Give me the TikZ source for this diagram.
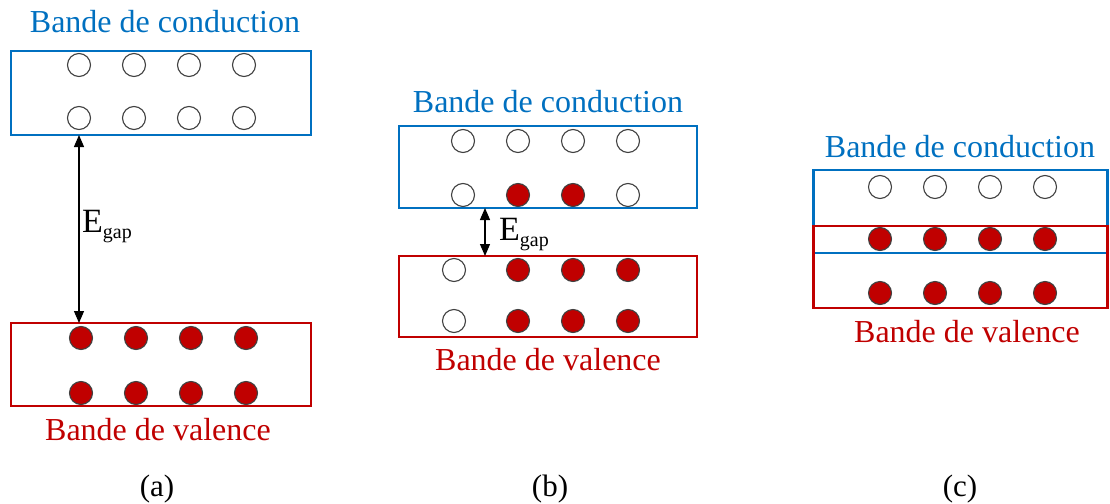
\documentclass[tikz,border=0pt]{standalone}
\usepackage{fontspec}
\setmainfont{Liberation Serif}
\usetikzlibrary{arrows.meta}
\definecolor{bandblue}{HTML}{0070C0}
\definecolor{bandred}{HTML}{C00000}
\begin{document}
\begin{tikzpicture}[x=1pt,y=-1pt,
  cband/.style={draw=bandblue, line width=2.6pt, rectangle, inner sep=0pt, outer sep=0pt},
  vband/.style={draw=bandred, line width=2.6pt, rectangle, inner sep=0pt, outer sep=0pt},
  hole/.style={circle, draw=black!75, line width=1.1pt, minimum size=23pt, inner sep=0pt, fill=white},
  elec/.style={hole, fill=bandred},
  ctext/.style={text=bandblue, font=\fontsize{32}{36}\selectfont, anchor=base, inner sep=0pt},
  vtext/.style={text=bandred, font=\fontsize{32}{36}\selectfont, anchor=base, inner sep=0pt},
  panelcap/.style={font=\fontsize{31}{34}\selectfont, anchor=base, inner sep=0pt},
  gaplabel/.style={anchor=base west, inner sep=0pt},
  gaparrow/.style={{Triangle[length=12pt,width=10pt]}-{Triangle[length=12pt,width=10pt]}, line width=1.2pt}
]
\useasboundingbox (0,0) rectangle (1110,503);
\newcommand{\Egap}{{\fontsize{34}{34}\selectfont E}\raisebox{-6pt}{\fontsize{20}{20}\selectfont gap}}

% ---------- (a) ----------
\node[cband, minimum width=300pt, minimum height=84pt] (cA) at (161,93) {};
\node[vband, minimum width=300pt, minimum height=83pt] (vA) at (161,364.5) {};
\node[ctext] (tcA) at (165,33) {Bande de conduction};
\node[vtext] (tvA) at (158,440) {Bande de valence};
\foreach \x [count=\i] in {79,134,189,244} {
  \node[hole] (aT\i) at (\x,65) {};
  \node[hole] (aB\i) at (\x,118) {};
}
\foreach \x [count=\i] in {81,136,191,246} {
  \node[elec] (aV\i) at (\x,338) {};
  \node[elec] (aW\i) at (\x,393) {};
}
\coordinate (gA) at (79,0);
\draw[gaparrow] (gA |- cA.south) -- (gA |- vA.north);
\node[gaplabel] (eA) at (82,232) {\Egap};
\node[panelcap] (la) at (157,496) {(a)};

% ---------- (b) ----------
\node[cband, minimum width=298pt, minimum height=82pt] (cB) at (548,167) {};
\node[vband, minimum width=298pt, minimum height=81pt] (vB) at (548,296.5) {};
\node[ctext] (tcB) at (548,112) {Bande de conduction};
\node[vtext] (tvB) at (548,370) {Bande de valence};
\foreach \x [count=\i] in {463,518,573,628} {
  \node[hole] (bT\i) at (\x,141) {};
}
\node[hole] (bB1) at (463,195) {};
\node[elec] (bB2) at (518,195) {};
\node[elec] (bB3) at (573,195) {};
\node[hole] (bB4) at (628,195) {};
\node[hole] (bV1) at (454,270) {};
\node[hole] (bW1) at (454,321) {};
\foreach \x [count=\i from 2] in {518,573,628} {
  \node[elec] (bV\i) at (\x,270) {};
  \node[elec] (bW\i) at (\x,321) {};
}
\coordinate (gB) at (485,0);
\draw[gaparrow] (gB |- cB.south) -- (gB |- vB.north);
\node[gaplabel] (eB) at (499,240) {\Egap};
\node[panelcap] (lb) at (550,496) {(b)};

% ---------- (c) ----------
\node[cband, minimum width=294pt, minimum height=83pt] (cC) at (960.5,211.5) {};
\node[vband, minimum width=294pt, minimum height=82pt] (vC) at (960.5,267) {};
\node[ctext] (tcC) at (960,157) {Bande de conduction};
\node[vtext] (tvC) at (967,342) {Bande de valence};
\foreach \x [count=\i] in {880,935,990,1045} {
  \node[hole] (cT\i) at (\x,187) {};
  \node[elec] (cM\i) at (\x,239) {};
  \node[elec] (cL\i) at (\x,293) {};
}
\node[panelcap] (lc) at (960,496) {(c)};
\end{tikzpicture}
\end{document}
